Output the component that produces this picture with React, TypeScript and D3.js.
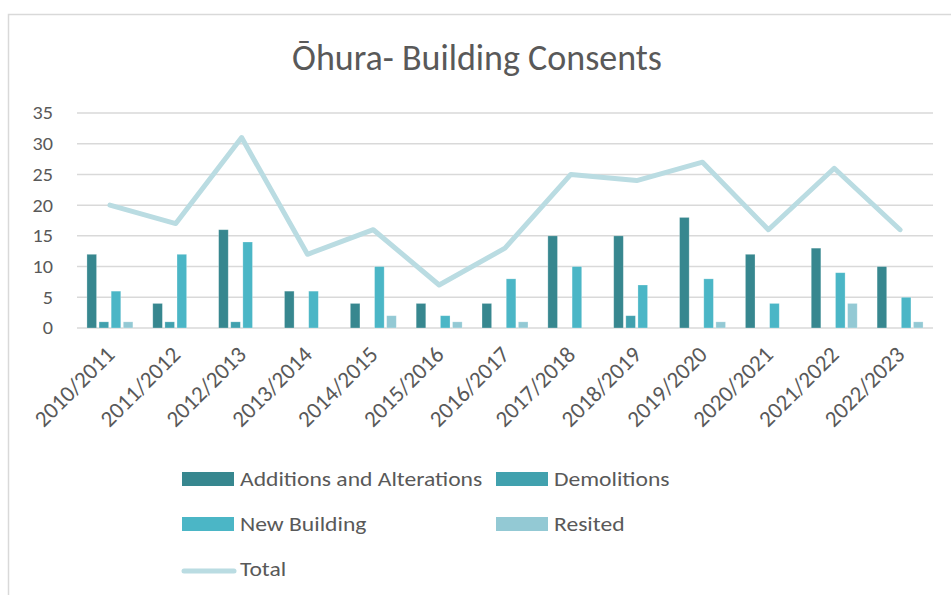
import React from "react";
import * as d3 from "d3";

const categories = ["2010/2011","2011/2012","2012/2013","2013/2014","2014/2015","2015/2016","2016/2017","2017/2018","2018/2019","2019/2020","2020/2021","2021/2022","2022/2023"];
const additions = [12,4,16,6,4,4,4,15,15,18,12,13,10];
const demolitions = [1,1,1,0,0,0,0,0,2,0,0,0,0];
const newBuilding = [6,12,14,6,10,2,8,10,7,8,4,9,5];
const resited = [1,0,0,0,2,1,1,0,0,1,0,4,1];
const total = [20,17,31,12,16,7,13,25,24,27,16,26,16];
const yTicks = [0,5,10,15,20,25,30,35];

const seriesNames = ["Additions and Alterations","Demolitions","New Building","Resited"];
const seriesColors = ["#37878F","#41A1AE","#4BB6C6","#93C9D4"];
const lineColor = "#BADCE2";
const textColor = "#595959";
const font = "Carlito, Calibri, Lato, 'Open Sans', sans-serif";

export default function App() {
  const W = 952, H = 595;
  const left = 77, right = 933, top = 113, bottom = 328;
  const x = d3.scaleBand().domain(categories).range([left, right]).paddingInner(0).paddingOuter(0);
  const y = d3.scaleLinear().domain([0, 35]).range([bottom, top]);
  const seriesData = [additions, demolitions, newBuilding, resited];
  const bw = x.bandwidth();
  const step = bw * 0.184;
  const barW = bw * 0.146;
  const cx = (c: string) => (x(c) as number) + bw / 2;
  const line = d3.line<number>().x((_, i) => cx(categories[i])).y(d => y(d));

  return (
    <svg width={W} height={H} style={{ position: "absolute", left: 0, top: 0, fontFamily: font }}>
      <rect x={0} y={0} width={W} height={H} fill="#fff" />
      <path d={`M8.5,${H} V14.5 H951`} fill="none" stroke="#d9d9d9" strokeWidth={1.5} />
      <text x={477} y={70} textAnchor="middle" fontSize={36} fill={textColor}>Ōhura- Building Consents</text>
      {yTicks.map(t => (
        <g key={t}>
          <line x1={left} x2={right} y1={y(t)} y2={y(t)} stroke="#d9d9d9" strokeWidth={1.5} />
          <text transform={`translate(53,${y(t)}) scale(1.12,1)`} dy="0.36em" textAnchor="end" fontSize={18} fill={textColor}>{t}</text>
        </g>
      ))}
      {seriesData.map((arr, si) => (
        <g key={si}>
          {arr.map((v, i) => v > 0 ? (
            <rect key={i}
              x={cx(categories[i]) + (si - 1.5) * step - barW / 2}
              y={y(v)} width={barW} height={y(0) - y(v)}
              fill={seriesColors[si]} stroke="#ffffff" strokeOpacity={0.35} strokeWidth={0.75} />
          ) : null)}
        </g>
      ))}
      <path d={line(total) || ""} fill="none" stroke={lineColor} strokeWidth={5} strokeLinejoin="round" strokeLinecap="round" />
      {categories.map(c => (
        <text key={c} transform={`translate(${cx(c) + 6},${356}) rotate(-45)`} textAnchor="end" fontSize={23} fill={textColor}>{c}</text>
      ))}
      {[
        { name: seriesNames[0], color: seriesColors[0], x: 182, y: 479, kind: "bar" },
        { name: seriesNames[1], color: seriesColors[1], x: 496, y: 479, kind: "bar" },
        { name: seriesNames[2], color: seriesColors[2], x: 182, y: 524, kind: "bar" },
        { name: seriesNames[3], color: seriesColors[3], x: 496, y: 524, kind: "bar" },
        { name: "Total", color: lineColor, x: 182, y: 569, kind: "line" },
      ].map(l => (
        <g key={l.name}>
          {l.kind === "bar"
            ? <rect x={l.x} y={l.y - 7} width={52} height={14} fill={l.color} />
            : <line x1={l.x + 2} x2={l.x + 52} y1={l.y + 2} y2={l.y + 2} stroke={l.color} strokeWidth={5} strokeLinecap="round" />}
          <text transform={`translate(${l.x + 58},${l.y}) scale(1.18,1)`} dy="0.36em" fontSize={20} fill={textColor}>{l.name}</text>
        </g>
      ))}
    </svg>
  );
}
